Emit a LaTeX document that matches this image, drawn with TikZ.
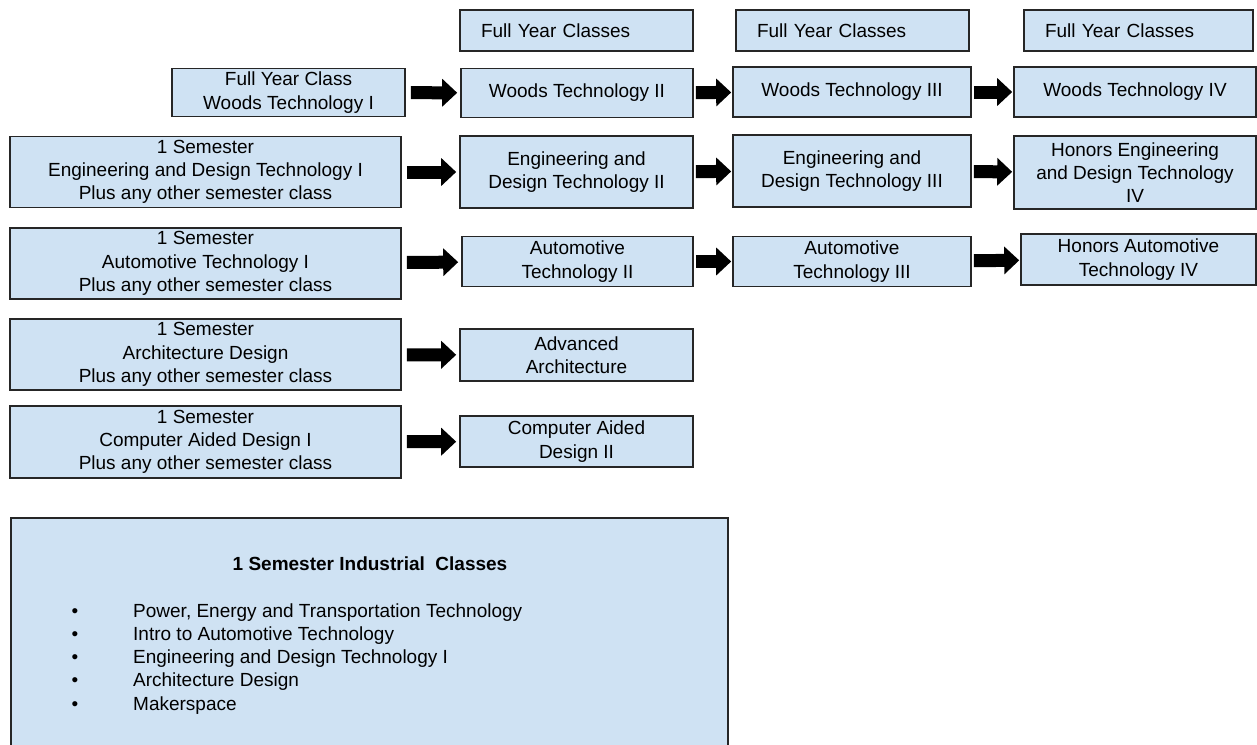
\documentclass[tikz,border=0pt]{standalone}
\usepackage{fontspec}
\setmainfont{Liberation Sans}
\usetikzlibrary{arrows.meta}
\definecolor{boxblue}{HTML}{CFE2F3}
\tikzset{
  cls/.style={draw=black!85, line width=1.6pt, fill=boxblue, inner sep=0pt,
    align=center, font=\fontsize{19}{23.3}\selectfont},
  hdr/.style={cls, align=left},
  blockarrow/.style={line width=13pt, -{Triangle[length=15pt,width=27pt]}},
  firstarrow/.style={blockarrow, shorten <=5pt, shorten >=3pt},
  midarrow/.style={blockarrow, shorten <=2pt, shorten >=1pt}
}
\begin{document}
\begin{tikzpicture}[x=1pt,y=-1pt]
\useasboundingbox (0,0) rectangle (1257,744);
% headers
\node[hdr, minimum width=233, minimum height=41, text width=191] (h1) at (576.5,30.5) {Full Year Classes};
\node[hdr, minimum width=233, minimum height=41, text width=191] (h2) at (852.5,30.5) {Full Year Classes};
\node[hdr, minimum width=229, minimum height=41, text width=187] (h3) at (1138.5,30.5) {Full Year Classes};
% row 1
\node[cls, minimum width=233, minimum height=48] (w1) at (288.5,92.5) {Full Year Class\\Woods Technology I};
\node[cls, minimum width=232, minimum height=49] (w2) at (577,93) {Woods Technology II};
\node[cls, minimum width=238, minimum height=50] (w3) at (852,92) {Woods Technology III};
\node[cls, minimum width=242, minimum height=50] (w4) at (1135,92) {Woods Technology IV};
% row 2
\node[cls, minimum width=391, minimum height=71] (e1) at (205.5,172) {1 Semester\\Engineering and Design Technology I\\Plus any other semester class};
\node[cls, minimum width=233, minimum height=72] (e2) at (576.5,172) {Engineering and\\Design Technology II};
\node[cls, minimum width=238, minimum height=72] (e3) at (852,171) {Engineering and\\Design Technology III};
\node[cls, minimum width=242, minimum height=73] (e4) at (1135,172.5) {Honors Engineering\\and Design Technology\\IV};
% row 3
\node[cls, minimum width=391, minimum height=71] (a1) at (205.5,263.5) {1 Semester\\Automotive Technology I\\Plus any other semester class};
\node[cls, minimum width=231, minimum height=50] (a2) at (577.5,261.5) {Automotive\\Technology II};
\node[cls, minimum width=238, minimum height=50] (a3) at (852,261.5) {Automotive\\Technology III};
\node[cls, minimum width=235, minimum height=51] (a4) at (1138.5,259.5) {Honors Automotive\\Technology IV};
% row 4
\node[cls, minimum width=391, minimum height=71] (r1) at (205.5,354.5) {1 Semester\\Architecture Design\\Plus any other semester class};
\node[cls, minimum width=233, minimum height=52] (r2) at (576.5,355) {Advanced\\Architecture};
% row 5
\node[cls, minimum width=391, minimum height=72] (c1) at (205.5,442) {1 Semester\\Computer Aided Design I\\Plus any other semester class};
\node[cls, minimum width=233, minimum height=51] (c2) at (576.5,441.5) {Computer Aided\\Design II};
% bottom box
\node[cls, minimum width=717, minimum height=245, anchor=north west] (bot) at (10,517) {};
\node[font=\fontsize{19}{23.3}\selectfont\bfseries, anchor=base, inner sep=0pt] (btitle) at (370,570) {1 Semester Industrial\ \ Classes};
\node[font=\fontsize{19}{23.3}\selectfont, anchor=base west, inner sep=0pt] (blist) at (71.5,617)
{\begin{tabular}[t]{@{}p{61.5pt}@{}l@{}}
\textbullet & Power, Energy and Transportation Technology\\
\textbullet & Intro to Automotive Technology\\
\textbullet & Engineering and Design Technology I\\
\textbullet & Architecture Design\\
\textbullet & Makerspace
\end{tabular}};
% arrows
\draw[firstarrow] (w1) -- (w2);
\draw[midarrow] (w2) -- (w3);
\draw[midarrow] (w3) -- (w4);
\draw[firstarrow] (e1) -- (e2);
\draw[midarrow] (e2) -- (e3);
\draw[midarrow] (e3) -- (e4);
\draw[firstarrow] (a1) -- (a2);
\draw[midarrow] (a2) -- (a3);
\draw[midarrow] (a3) -- (a4);
\draw[firstarrow] (r1) -- (r2);
\draw[firstarrow] (c1) -- (c2);
\end{tikzpicture}
\end{document}
